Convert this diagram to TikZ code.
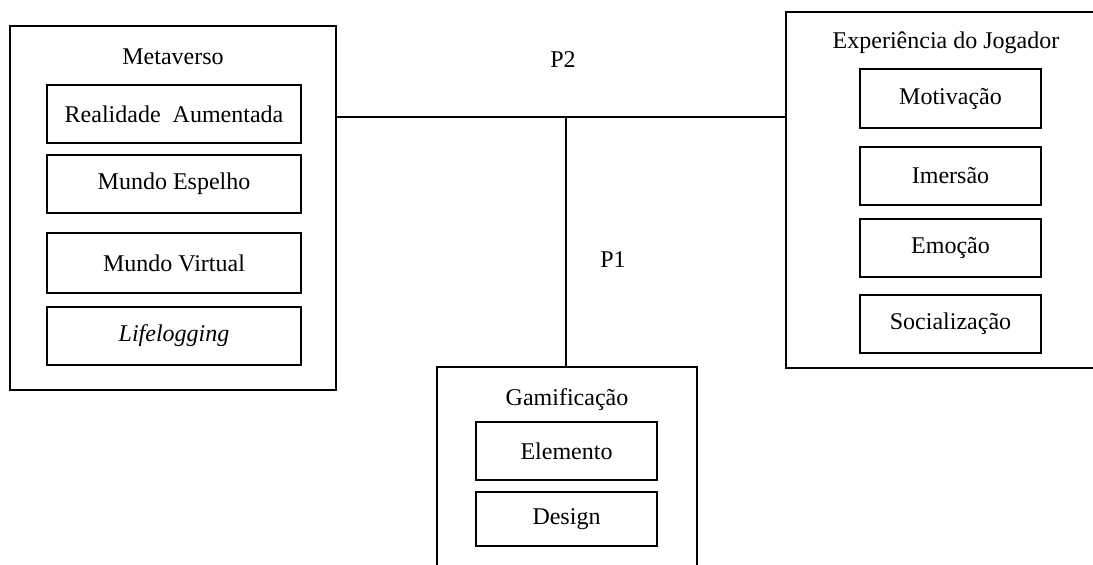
\documentclass[tikz,border=0pt]{standalone}
\usepackage{fontspec}
\setmainfont{Liberation Serif}
\usetikzlibrary{positioning}

\begin{document}
\begin{tikzpicture}[
    x=0.5pt,y=-0.5pt,
    frame/.style={draw,rectangle,line width=0.6pt,inner sep=0pt},
    item/.style={draw,rectangle,line width=0.6pt,align=center,inner sep=0pt,font=\fontsize{12}{14}\selectfont},
    title/.style={font=\fontsize{12}{14}\selectfont},
    link/.style={draw,line width=0.6pt}
]
\useasboundingbox (0,0) rectangle (1093,564);
% outer frames
\node[frame,minimum width=163pt,minimum height=182pt] (meta) at (173,208) {};
\node[frame,minimum width=164.5pt,minimum height=178pt] (exp) at (950.5,190) {};
\node[frame,minimum width=130pt,minimum height=111.5pt] (gam) at (567,478.5) {};
\node[title] (metatitle) at (173,57) {Metaverso};
\node[title] (exptitle) at (946,43) {Experiência do Jogador};
\node[title] (gamtitle) at (567,400) {Gamificação};
% Metaverso
\node[item,minimum width=127pt,minimum height=29pt] (ra) at (174,114) {Realidade\ \ Aumentada};
\node[item,minimum width=127pt,minimum height=29pt] (me) at (174,184) {Mundo Espelho};
\node[item,minimum width=127pt,minimum height=30pt] (mv) at (174,263) {Mundo Virtual};
\node[item,minimum width=127pt,minimum height=29pt] (ll) at (174,336) {\textit{Lifelogging}};
% Experiencia do Jogador
\node[item,minimum width=90.5pt,minimum height=29.5pt] (mot) at (950.5,98.5) {Motivação};
\node[item,minimum width=90.5pt,minimum height=29pt] (ime) at (950.5,176) {Imersão};
\node[item,minimum width=90.5pt,minimum height=29pt] (emo) at (950.5,248) {Emoção};
\node[item,minimum width=90.5pt,minimum height=29pt] (soc) at (950.5,324) {Socialização};
% Gamificacao
\node[item,minimum width=90.5pt,minimum height=29pt] (ele) at (566.5,451) {Elemento};
\node[item,minimum width=90.5pt,minimum height=27pt] (des) at (566.5,519) {Design};
% links
\coordinate (hub) at (566,117);
\draw[link] (meta.east |- hub) -- (exp.west |- hub);
\draw[link] (hub) -- (gam.north -| hub);
\node[title] (p2) at (563,60) {P2};
\node[title] (p1) at (613,260) {P1};
\end{tikzpicture}
\end{document}
